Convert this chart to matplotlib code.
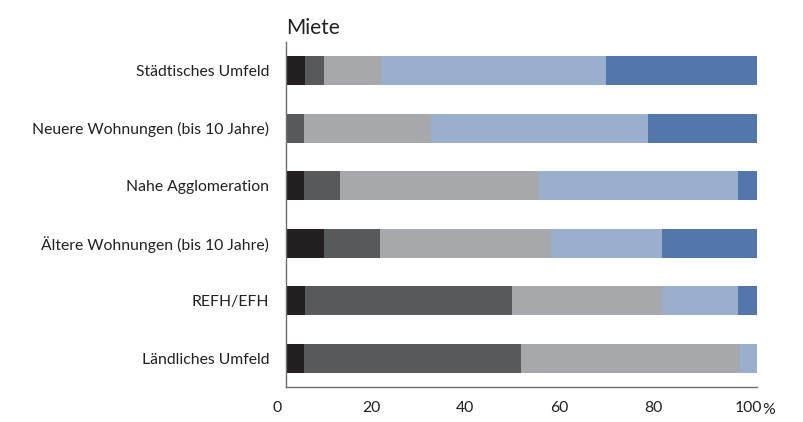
import matplotlib
matplotlib.use("Agg")
from matplotlib import pyplot as plt
from matplotlib.transforms import ScaledTranslation, blended_transform_factory

plt.rcParams["font.family"] = ["Lato", "DejaVu Sans"]

categories = [
    "Städtisches Umfeld",
    "Neuere Wohnungen (bis 10 Jahre)",
    "Nahe Agglomeration",
    "Ältere Wohnungen (bis 10 Jahre)",
    "REFH/EFH",
    "Ländliches Umfeld",
]
# five stacked shares per category (percent)
seg1 = [4.1, 0.0, 3.9, 8.1, 4.1, 3.9]
seg2 = [4.0, 3.9, 7.6, 11.9, 43.9, 46.0]
seg3 = [12.0, 26.8, 42.2, 36.2, 31.9, 46.4]
seg4 = [47.9, 46.2, 42.3, 23.7, 16.1, 3.7]
seg5 = [32.0, 23.1, 4.0, 20.1, 4.0, 0.0]
xticks = [0, 20, 40, 60, 80, 100]

colors = ["#231f20", "#58595b", "#a7a8ab", "#9aaecd", "#5277a8"]
text_color = "#231f20"

fig = plt.figure(figsize=(8.04, 4.22), dpi=100)
ax = fig.add_axes([286 / 804, 35 / 422, 471 / 804, 345 / 422])

y = list(range(len(categories)))
left = [0.0] * len(categories)
for seg, col in zip([seg1, seg2, seg3, seg4, seg5], colors):
    ax.barh(y, seg, left=left, height=0.5, color=col, linewidth=0)
    left = [a + b for a, b in zip(left, seg)]

ax.set_xlim(0, 100)
ax.set_ylim(len(categories) - 0.5, -0.5)
ax.set_yticks(y)
ax.set_yticklabels(categories, fontsize=11.3, color=text_color)
ax.set_xticks(xticks)
ax.set_xticklabels([str(t) for t in xticks], fontsize=11.3, color=text_color)
ax.tick_params(axis="y", length=0, pad=12)
ax.tick_params(axis="x", length=0, pad=10)

shift = ScaledTranslation(-9 / 100, 0, fig.dpi_scale_trans)
for lab in ax.get_xticklabels():
    lab.set_transform(lab.get_transform() + shift)

trans = blended_transform_factory(ax.transData, ax.transAxes)
ax.text(101.2, -0.068, "%", transform=trans, ha="left", va="center",
        fontsize=11.3, color=text_color)

for side in ["top", "right"]:
    ax.spines[side].set_visible(False)
for side in ["left", "bottom"]:
    ax.spines[side].set_color("#6d6e70")
    ax.spines[side].set_linewidth(1.0)

ax.set_title("Miete", loc="left", fontsize=15, color=text_color, pad=6)

fig.savefig("out.png", dpi=100)
